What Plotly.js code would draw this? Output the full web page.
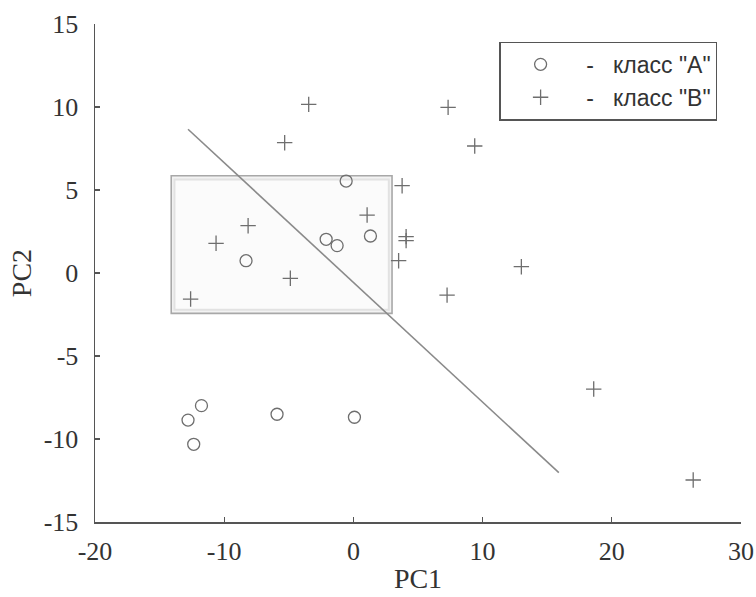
<!DOCTYPE html>
<html>
<head>
<meta charset="utf-8">
<script src="https://cdn.plot.ly/plotly-3.0.1.min.js"></script>
<style>html,body{margin:0;padding:0;background:#fff;}#chart{width:756px;height:597px;}</style>
</head>
<body>
<div id="chart"></div>
<script>
// Class "A" (circles)
const classA_x = [-0.56, -2.11, -1.26, 1.32, -8.31, -12.8, -11.76, -12.36, -5.91, 0.08];
const classA_y = [5.54, 2.03, 1.65, 2.23, 0.74, -8.86, -7.99, -10.32, -8.51, -8.69];
// Class "B" (plus)
const classB_x = [-3.46, -5.32, 1.06, -8.15, -10.63, -4.88, -12.6, 7.33, 9.39, 3.77, 4.08, 4.08, 3.5, 13.0, 7.25, 18.6, 26.3];
const classB_y = [10.16, 7.85, 3.49, 2.85, 1.79, -0.32, -1.57, 9.98, 7.65, 5.26, 2.19, 1.95, 0.74, 0.38, -1.33, -6.99, -12.47];
// Separating line end points
const line_x = [-12.8, 15.9];
const line_y = [8.66, -12.03];
// Highlighted region bounds
const rect_x = [-14.1, 2.99];
const rect_y = [-2.43, 5.86];

const sp = '&nbsp;';
const names = [sp.repeat(4) + '-' + sp.repeat(3) + 'класс "A"', sp.repeat(4) + '-' + sp.repeat(3) + 'класс "B"'];
const xTicks = [-20, -10, 0, 10, 20, 30];
const yTicks = [-15, -10, -5, 0, 5, 10, 15];

const mk = '#6e6e6e';
const traces = [
  {x: line_x, y: line_y, mode: 'lines', line: {color: '#8a8a8a', width: 1.6}, showlegend: false, hoverinfo: 'skip'},
  {x: classA_x, y: classA_y, mode: 'markers', name: names[0],
   marker: {symbol: 'circle-open', size: 12, color: mk, line: {width: 1.3, color: mk}}},
  {x: classB_x, y: classB_y, mode: 'markers', name: names[1],
   marker: {symbol: 'cross-thin-open', size: 11, color: mk, line: {width: 1.3, color: mk}}}
];

const tickFont = {family: '"Liberation Serif", "Times New Roman", serif', size: 26, color: '#333'};
const layout = {
  width: 756, height: 597,
  margin: {l: 94.6, r: 15.4, t: 24, b: 75, pad: 0},
  paper_bgcolor: '#fff', plot_bgcolor: 'rgba(0,0,0,0)',
  showlegend: true,
  legend: {x: 0.626, y: 0.9645, xanchor: 'left', yanchor: 'top', xref: 'paper', yref: 'paper',
    bgcolor: '#fff', bordercolor: '#555', borderwidth: 1.2, indentation: 20,
    font: {family: '"Liberation Sans", Arial, sans-serif', size: 23, color: '#333'}, tracegroupgap: 0},
  xaxis: {range: [-20, 30], tickvals: xTicks, ticktext: xTicks.map(String), ticks: 'inside', ticklen: 5, tickwidth: 1.3, tickcolor: '#555',
    showline: true, linecolor: '#555', linewidth: 1.5, showgrid: false, zeroline: false, tickfont: tickFont,
    ticklabelstandoff: 5,
    title: {text: 'PC1', font: {family: '"Liberation Serif", "Times New Roman", serif', size: 28, color: '#333'}, standoff: 3}},
  yaxis: {range: [-15, 15], tickvals: yTicks, ticktext: yTicks.map(String), ticks: 'inside', ticklen: 5, tickwidth: 1.3, tickcolor: '#555',
    showline: true, linecolor: '#555', linewidth: 1.5, showgrid: false, zeroline: false, tickfont: tickFont,
    ticklabelstandoff: 10,
    title: {text: 'PC2', font: {family: '"Liberation Serif", "Times New Roman", serif', size: 28, color: '#333'}, standoff: 4}},
  shapes: [
    {type: 'rect', xref: 'x', yref: 'y', x0: rect_x[0], x1: rect_x[1], y0: rect_y[0], y1: rect_y[1],
     fillcolor: '#f3f3f3', line: {color: '#a8a8a8', width: 1.6}, layer: 'below'},
    {type: 'rect', xref: 'x', yref: 'y', x0: rect_x[0] + 0.25, x1: rect_x[1] - 0.25, y0: rect_y[0] + 0.22, y1: rect_y[1] - 0.22,
     fillcolor: '#fbfbfb', line: {color: '#e2e2e2', width: 2}, layer: 'below'}
  ]
};
Plotly.newPlot('chart', traces, layout, {displayModeBar: false, staticPlot: true});
</script>
</body>
</html>
